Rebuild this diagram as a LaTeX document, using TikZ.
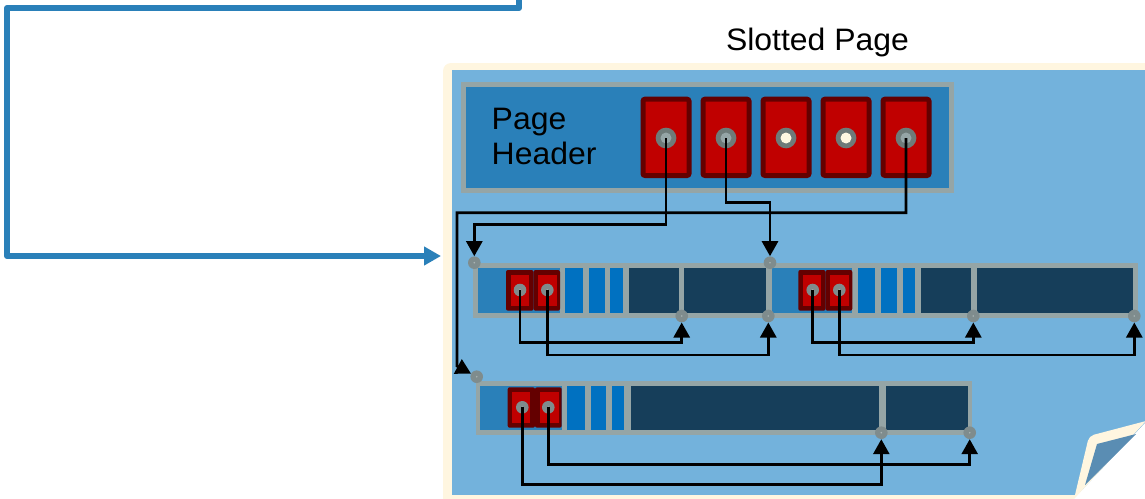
\documentclass[tikz,border=0pt]{standalone}
\usepackage{fontspec}
\setmainfont{Liberation Sans}
\usetikzlibrary{arrows.meta}

\definecolor{pagecream}{HTML}{FFF6E0}
\definecolor{pageblue}{HTML}{73B2DC}
\definecolor{hdrblue}{HTML}{2A80B9}
\definecolor{bargray}{HTML}{95A5A6}
\definecolor{navy}{HTML}{163E5A}
\definecolor{stripeblue}{HTML}{0071C1}
\definecolor{slotdark}{HTML}{640000}
\definecolor{slotred}{HTML}{C00000}
\definecolor{dotgray}{HTML}{7F8C8D}
\definecolor{dotmark}{HTML}{A9B4B4}
\definecolor{ringgray}{HTML}{6E7B79}
\definecolor{ringcream}{HTML}{FFF8E1}
\definecolor{curlblue}{HTML}{5A8DB3}

% two adjacent slot-array cells inside a tuple: #1 left, #2 split, #3 right, #4 top, #5 bottom
\newcommand{\slotpair}[5]{%
  \fill[slotdark, rounded corners=2] (#1,#4) rectangle (#2,#5);
  \fill[slotdark, rounded corners=2] (#2,#4) rectangle (#3,#5);
  \fill[slotred] ({#1+4.6},{#4+4.5}) rectangle ({#2-4.6},{#5-4.5});
  \fill[slotred] ({#2+4.6},{#4+4.5}) rectangle ({#3-3.2},{#5-4.5});
}

\begin{document}
\begin{tikzpicture}[x=1pt, y=-1pt,
  slotbox/.style={draw=slotdark, fill=slotred, line width=5, rounded corners=2,
    minimum width=46, minimum height=76.3, inner sep=0},
  hdot/.style={circle, fill=ringgray, minimum size=20.7, inner sep=0,
    path picture={\fill[#1] (path picture bounding box.center) circle (5.5);}},
  pdot/.style={circle, fill=dotgray, minimum size=12.6, inner sep=0,
    path picture={\fill[dotmark] (path picture bounding box.center) circle (0.9);}},
  conn/.style={draw=black, line width=2.7, line join=miter,
    -{Triangle[length=15,width=16]}},
  bluearrow/.style={draw=hdrblue, line width=6, line join=round,
    -{Triangle[length=17,width=18]}},
  label/.style={inner sep=0, font=\fontsize{31}{35}\selectfont},
]
\useasboundingbox (0,0) rectangle (1145,498);
\clip (0,0) rectangle (1145,498);

% ---- the page sheet ----
\fill[pagecream, rounded corners=8] (443,63) rectangle (1180,530);
\fill[pageblue] (452,70) rectangle (1180,495);

% folded corner
\fill[white] (1145,423) -- (1150,423) -- (1150,505) -- (1068,505) -- cycle;
\fill[pagecream] (1146,421) [rounded corners=5] -- (1089,436) [sharp corners] -- (1074,499) -- cycle;
\fill[curlblue] (1136,434) -- (1097,444) -- (1085,485) -- cycle;

% ---- title ----
\node[label, anchor=base, xscale=1.03] (title) at (817.5,50.7) {Slotted Page};

% ---- page header ----
\fill[bargray] (460.7,81.7) rectangle (954,192.7);
\fill[hdrblue] (466,86.7) rectangle (949,187.7);
\node[label, anchor=base west, xscale=1.03] (hdrA) at (491.5,129) {Page};
\node[label, anchor=base west, xscale=1.03] (hdrB) at (491.5,164) {Header};

\foreach \i/\x in {1/666,2/726,3/786,4/846,5/906}{
  \node[slotbox] (slot\i) at (\x,137.35) {};
}
\node[hdot=bargray]   (hd1) at (666,138) {};
\node[hdot=bargray]   (hd2) at (726,138) {};
\node[hdot=ringcream] (hd3) at (786,138) {};
\node[hdot=ringcream] (hd4) at (846,138) {};
\node[hdot=bargray]   (hd5) at (906,138) {};

% ---- first row: two tuples side by side ----
\fill[bargray] (473.3,263.3) rectangle (1137.7,317.7);
\fill[hdrblue]    (478,267.7)   rectangle (560,312.7);
\fill[stripeblue] (565,267.7)   rectangle (583.3,312.7);
\fill[stripeblue] (588.7,267.7) rectangle (605,312.7);
\fill[stripeblue] (610.3,267.7) rectangle (623.3,312.7);
\fill[navy]       (629,267.7)   rectangle (679.3,312.7);
\fill[navy]       (684.3,267.7) rectangle (765.7,312.7);
\slotpair{506}{533.5}{560}{270}{310.7}

\fill[hdrblue]    (771.7,267.7) rectangle (852.3,312.7);
\fill[stripeblue] (857.7,267.7) rectangle (875,312.7);
\fill[stripeblue] (880.7,267.7) rectangle (897,312.7);
\fill[stripeblue] (902.7,267.7) rectangle (915.3,312.7);
\fill[navy]       (921,267.7)   rectangle (971,312.7);
\fill[navy]       (976.7,267.7) rectangle (1132.7,312.7);
\slotpair{798.3}{825.5}{852.3}{270}{310.7}

% ---- second row: one tuple ----
\fill[bargray] (475.7,381) rectangle (972.3,435);
\fill[hdrblue]    (480,385.7)   rectangle (561.7,430);
\fill[stripeblue] (566.7,385.7) rectangle (585,430);
\fill[stripeblue] (590.7,385.7) rectangle (606,430);
\fill[stripeblue] (611.7,385.7) rectangle (624.3,430);
\fill[navy]       (630.7,385.7) rectangle (879.3,430);
\fill[navy]       (885.7,385.7) rectangle (967.7,430);
\slotpair{507.7}{535}{561.7}{387.3}{427.7}

% ---- pointer dots ----
\node[pdot] (r1tl) at (474.3,262.7) {};
\node[pdot] (r1tm) at (770,262.7) {};
\node[pdot] (r1b1) at (681.7,316) {};
\node[pdot] (r1b2) at (768.3,316) {};
\node[pdot] (r1b3) at (973.3,316) {};
\node[pdot] (r1b4) at (1134.3,316) {};
\node[pdot] (ra1) at (520,290) {};
\node[pdot] (ra2) at (547.3,290) {};
\node[pdot] (rb1) at (812.7,290) {};
\node[pdot] (rb2) at (839.3,290) {};
\node[pdot] (r3tl) at (476.7,376.7) {};
\node[pdot] (r3b1) at (881.3,432.7) {};
\node[pdot] (r3b2) at (969.7,432.7) {};
\node[pdot] (rc1) at (522.3,407.3) {};
\node[pdot] (rc2) at (548.3,407.3) {};

% ---- slot array pointers ----
\draw[conn] (hd1.center) -- ++(0,86.3) -| (r1tl);
\draw[conn] (hd2.center) -- ++(0,64.3) -| (r1tm);
\coordinate (bend5) at (457,366);
\draw[conn] (hd5.center) -- ++(0,74.7) -| (bend5) -- (r3tl);

% ---- tuple-internal pointers ----
\draw[conn] (ra1.center) -- ++(0,52.7) -| (r1b1);
\draw[conn] (ra2.center) -- ++(0,65) -| (r1b2);
\draw[conn] (rb1.center) -- ++(0,52.7) -| (r1b3);
\draw[conn] (rb2.center) -- ++(0,65) -| (r1b4);
\draw[conn] (rc1.center) -- ++(0,77) -| (r3b1);
\draw[conn] (rc2.center) -- ++(0,57) -| (r3b2);

% ---- incoming pointer to the page ----
\coordinate (src) at (519,-10);
\coordinate (srcA) at (519,8);
\coordinate (srcB) at (7,8);
\coordinate (srcC) at (7,256);
\coordinate (pagein) at (441,256);
\draw[bluearrow] (src) -- (srcA) -- (srcB) -- (srcC) -- (pagein);
\end{tikzpicture}
\end{document}
